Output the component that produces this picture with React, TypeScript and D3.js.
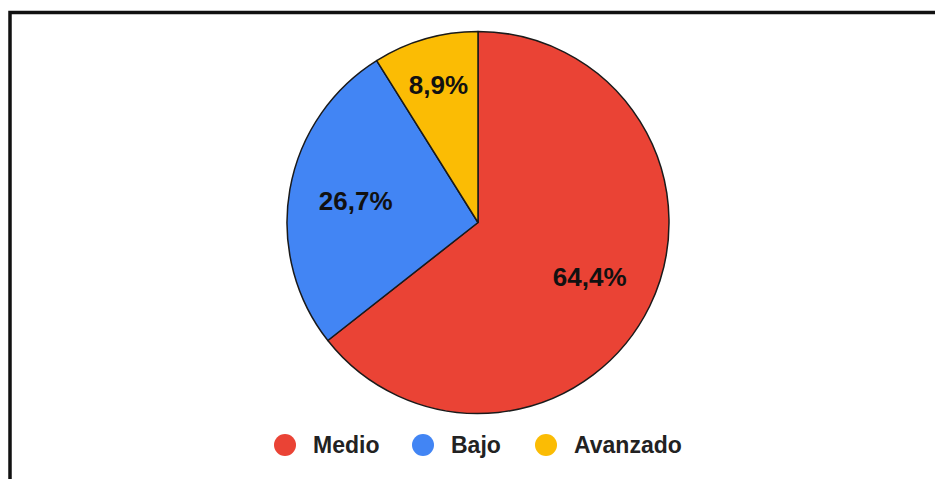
import React, { useEffect, useRef } from 'react'
import * as d3 from 'd3'

const categories = ['Medio', 'Bajo', 'Avanzado']
const values = [64.4, 26.7, 8.9]
const labels = ['64,4%', '26,7%', '8,9%']
const colors = ['#EA4335', '#4285F4', '#FBBC04']

const W = 935
const H = 479

const App: React.FC = () => {
  const ref = useRef<SVGSVGElement>(null)

  useEffect(() => {
    const svg = d3.select(ref.current)
    svg.selectAll('*').remove()

    // frame: only top + left edges are inside the picture
    svg
      .append('rect')
      .attr('x', 10)
      .attr('y', 12.5)
      .attr('width', W + 20)
      .attr('height', H + 20)
      .attr('fill', '#fff')
      .attr('stroke', '#111')
      .attr('stroke-width', 3.5)

    const cx = 478
    const cy = 222.5
    const r = 191

    const data = categories.map((c, i) => ({ name: c, value: values[i], label: labels[i], color: colors[i] }))

    const pie = d3
      .pie<typeof data[0]>()
      .value((d) => d.value)
      .sort(null)

    const arcs = pie(data)
    const arc = d3.arc<d3.PieArcDatum<typeof data[0]>>().innerRadius(0).outerRadius(r)

    const g = svg.append('g').attr('transform', `translate(${cx},${cy})`)

    g.selectAll('path')
      .data(arcs)
      .enter()
      .append('path')
      .attr('d', arc)
      .attr('fill', (d) => d.data.color)
      .attr('stroke', '#1a1a1a')
      .attr('stroke-width', 1.5)
      .attr('stroke-linejoin', 'round')

    // small slices get their label pushed further out
    const labelArc = (d: d3.PieArcDatum<typeof data[0]>) => {
      const lr = d.data.value < 15 ? r * 0.75 : r * 0.65
      return d3.arc<d3.PieArcDatum<typeof data[0]>>().innerRadius(lr).outerRadius(lr).centroid(d)
    }

    g.selectAll('text.lbl')
      .data(arcs)
      .enter()
      .append('text')
      .attr('class', 'lbl')
      .attr('x', (d) => labelArc(d)[0])
      .attr('y', (d) => labelArc(d)[1] + 9)
      .attr('text-anchor', 'middle')
      .attr('font-family', 'Liberation Sans, Arial, sans-serif')
      .attr('font-weight', 'bold')
      .attr('font-size', 26)
      .attr('fill', '#111')
      .text((d) => d.data.label)

    // legend
    const legendX = [285, 423, 546]
    const lg = svg.append('g')
    categories.forEach((c, i) => {
      const x = legendX[i]
      lg.append('circle').attr('cx', x).attr('cy', 445).attr('r', 11).attr('fill', colors[i])
      lg.append('text')
        .attr('x', x + 28)
        .attr('y', 453)
        .attr('font-family', 'Liberation Sans, Arial, sans-serif')
        .attr('font-weight', 'bold')
        .attr('font-size', 23)
        .attr('fill', '#222')
        .text(c)
    })
  }, [])

  return (
    <svg
      ref={ref}
      width={W}
      height={H}
      style={{ position: 'absolute', left: 0, top: 0, background: '#fff' }}
    />
  )
}

export default App
